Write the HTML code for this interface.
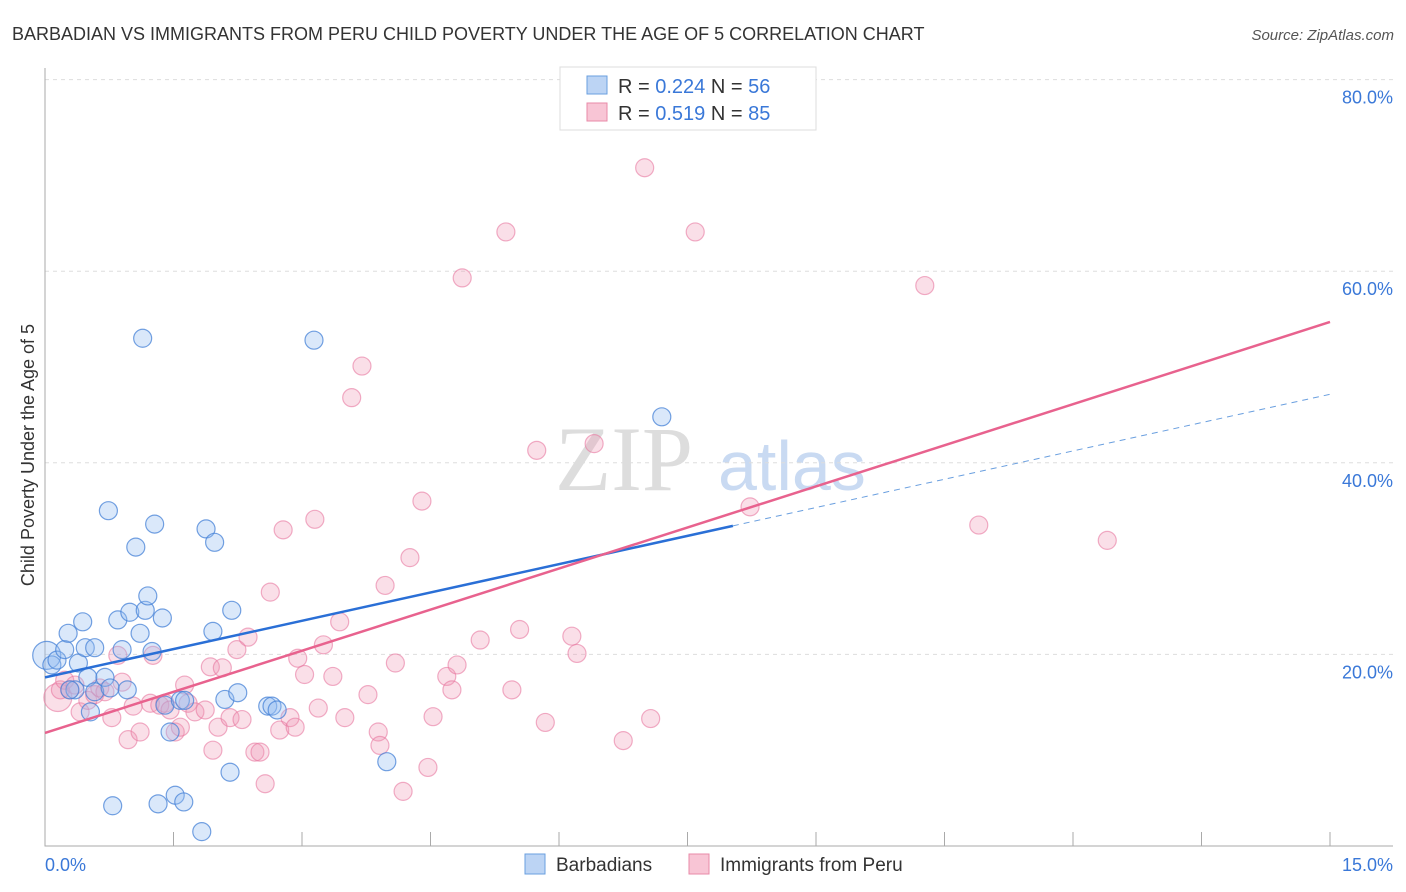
<!DOCTYPE html>
<html><head><meta charset="utf-8"><style>
body{margin:0;background:#fff;font-family:"Liberation Sans",sans-serif}
svg{display:block}
</style></head><body>
<svg id="chart" width="1406" height="892" xmlns="http://www.w3.org/2000/svg">
<text x="12" y="40" font-size="18" fill="#333">BARBADIAN VS IMMIGRANTS FROM PERU CHILD POVERTY UNDER THE AGE OF 5 CORRELATION CHART</text>
<text x="1394" y="40" font-size="15" fill="#555" font-style="italic" text-anchor="end">Source: ZipAtlas.com</text>
<text x="555" y="490" font-size="92" fill="#ddd" font-family="Liberation Serif,serif">ZIP</text>
<text x="718" y="490" font-size="70" fill="#c9daf2">atlas</text>
<g id="grid"></g>
<g id="axes"></g>
<g id="points"></g>
<g id="lines"></g>
<text transform="translate(34,455) rotate(-90)" font-size="18" fill="#333" text-anchor="middle">Child Poverty Under the Age of 5</text>
<g>
<rect x="560" y="67" width="256" height="63" fill="#fff" stroke="#ddd"/>
<rect x="587" y="76" width="20" height="18" fill="#bcd4f4" stroke="#6a9fdf"/>
<rect x="587" y="103" width="20" height="18" fill="#f8c5d5" stroke="#e88aa8"/>
<text x="618" y="93" font-size="20" fill="#333">R = <tspan fill="#3a78d8">0.224</tspan>   N = <tspan fill="#3a78d8">56</tspan></text>
<text x="618" y="120" font-size="20" fill="#333">R =  <tspan fill="#3a78d8">0.519</tspan>   N = <tspan fill="#3a78d8">85</tspan></text>
</g>
<g>
<rect x="525" y="854" width="20" height="20" fill="#bcd4f4" stroke="#6a9fdf"/>
<text x="556" y="871" font-size="19" fill="#333">Barbadians</text>
<rect x="689" y="854" width="20" height="20" fill="#f8c5d5" stroke="#e88aa8"/>
<text x="720" y="871" font-size="19" fill="#333">Immigrants from Peru</text>
</g>
</svg>
<script>
const xTicks=[0,1.5,3,4.5,6,7.5,9,10.5,12,13.5,15];
const yTicks=[20,40,60,80];
const blueX=[0.02,0.08,0.14,0.23,0.27,0.39,0.44,0.47,0.50,0.58,0.35,0.29,0.58,0.53,0.70,0.76,0.74,0.79,0.85,0.90,0.96,0.99,1.06,1.11,1.14,1.17,1.20,1.25,1.28,1.32,1.37,1.40,1.46,1.52,1.58,1.62,1.63,1.83,1.88,1.96,1.98,2.10,2.16,2.18,2.25,2.60,2.65,2.71,3.14,3.99,7.20];
const blueY=[19.9,18.9,19.4,20.5,22.2,19.1,23.4,20.7,17.6,20.7,16.3,16.3,16.1,14.0,17.6,16.5,35.0,4.2,23.6,20.5,16.3,24.4,31.2,22.2,53.0,24.6,26.1,20.3,33.6,4.4,23.8,14.7,11.9,5.3,15.2,4.6,15.2,1.5,33.1,22.4,31.7,15.3,7.7,24.6,16.0,14.6,14.6,14.2,52.8,8.8,44.8];
const pinkX=[0.15,0.18,0.23,0.29,0.35,0.41,0.50,0.58,0.64,0.70,0.78,0.85,0.90,0.97,1.03,1.11,1.23,1.26,1.34,1.40,1.46,1.52,1.58,1.63,1.67,1.75,1.87,1.93,1.96,2.02,2.07,2.16,2.24,2.30,2.37,2.45,2.51,2.57,2.63,2.74,2.78,2.86,2.92,2.95,3.03,3.15,3.19,3.25,3.36,3.44,3.50,3.58,3.70,3.77,3.89,3.91,3.97,4.09,4.18,4.26,4.40,4.47,4.53,4.69,4.75,4.81,4.87,5.08,5.38,5.45,5.54,5.74,5.84,6.15,6.21,6.41,6.75,7.00,7.07,7.59,8.23,10.27,10.90,12.40];
const pinkY=[15.5,16.3,17.3,16.3,16.8,14.0,15.2,15.8,16.5,16.1,13.4,19.9,17.1,11.1,14.6,11.9,14.9,19.9,14.7,14.9,14.2,11.9,12.4,16.8,14.9,14.0,14.2,18.7,10.0,12.4,18.6,13.4,20.5,13.2,21.8,9.8,9.8,6.5,26.5,12.1,33.0,13.4,12.4,19.6,17.9,34.1,14.4,21.0,17.7,23.4,13.4,46.8,50.1,15.8,11.9,10.5,27.2,19.1,5.7,30.1,36.0,8.2,13.5,17.7,16.3,18.9,59.3,21.5,64.1,16.3,22.6,41.3,12.9,21.9,20.1,42.0,11.0,70.8,13.3,64.1,35.4,58.5,33.5,31.9];
const blueLine=[17.6,1.97,8.03];   // intercept, slope, solid end x
const pinkLine=[11.8,2.86];        // intercept, slope
const NS="http://www.w3.org/2000/svg";
const X=v=>45+v/15*1285, Y=v=>846-v*9.58;
function mk(tag,attrs,parent){const e=document.createElementNS(NS,tag);for(const k in attrs)e.setAttribute(k,attrs[k]);document.getElementById(parent).appendChild(e);return e;}
yTicks.forEach(t=>{
 const l=mk('line',{x1:45,x2:1393,y1:Y(t),y2:Y(t),stroke:'#ddd','stroke-dasharray':'4,4'},'grid');
 
 
 const tx=mk('text',{x:1393,y:Y(t)+24,'font-size':18,fill:'#3a78d8','text-anchor':'end'},'grid');
 tx.textContent=t.toFixed(1)+'%';
 
 
});
const ax=mk('path',{d:'M45,68 V846 H1393',fill:'none',stroke:'#aaa'},'axes');


xTicks.forEach((t,i)=>{if(i===0)return;
 const l=mk('line',{x1:X(t),x2:X(t),y1:832,y2:846,stroke:'#aaa'},'axes');
 
 
});
[[0,'start',45],[15,'end',1393]].forEach(([v,a,px])=>{
 const tx=mk('text',{x:px,y:871,'font-size':18,fill:'#3a78d8','text-anchor':a},'axes');
 tx.textContent=v.toFixed(1)+'%';
 
 
});
pinkX.forEach((x,i)=>{
 const c=mk('circle',{cx:X(x),cy:Y(pinkY[i]),r:i===0?14:9,fill:'rgba(240,150,180,0.3)',stroke:'rgba(232,120,160,0.6)','stroke-width':1.2},'points');
 
 
});
blueX.forEach((x,i)=>{
 const c=mk('circle',{cx:X(x),cy:Y(blueY[i]),r:i===0?14:9,fill:'rgba(150,190,240,0.35)',stroke:'rgba(70,130,215,0.75)','stroke-width':1.2},'points');
 
 
});
const bl=mk('line',{x1:X(0),y1:Y(blueLine[0]),x2:X(blueLine[2]),y2:Y(blueLine[0]+blueLine[1]*blueLine[2]),stroke:'#2a6fd6','stroke-width':2.5},'lines');


const bd=mk('line',{x1:X(blueLine[2]),y1:Y(blueLine[0]+blueLine[1]*blueLine[2]),x2:X(15),y2:Y(blueLine[0]+blueLine[1]*15),stroke:'#6a9fdf','stroke-width':1,'stroke-dasharray':'6,5'},'lines');


const pl=mk('line',{x1:X(0),y1:Y(pinkLine[0]),x2:X(15),y2:Y(pinkLine[0]+pinkLine[1]*15),stroke:'#e8628e','stroke-width':2.5},'lines');


</script>
</body></html>
